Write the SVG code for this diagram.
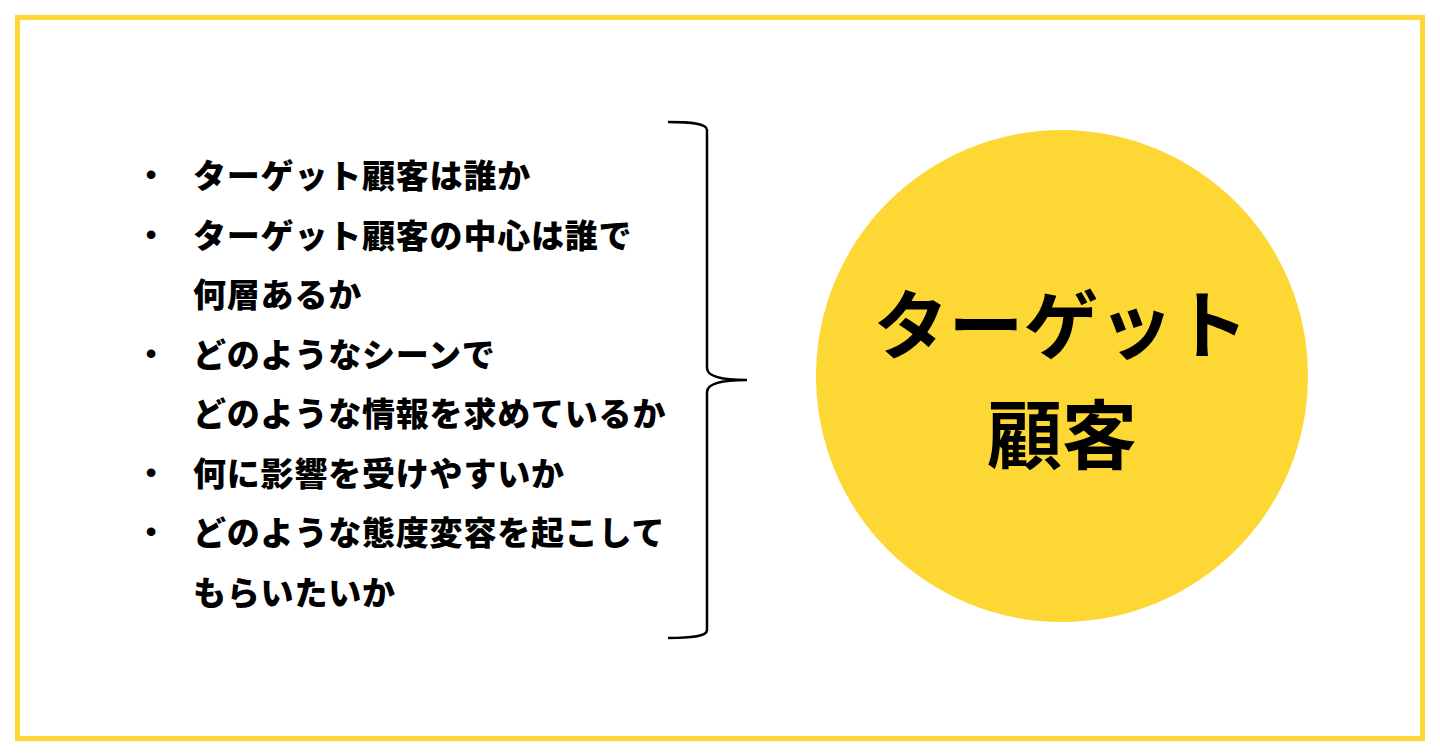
<svg xmlns="http://www.w3.org/2000/svg" width="1440" height="754" viewBox="0 0 1440 754">
  <style>
    .item { font-family: "Noto Sans CJK JP", "Noto Sans CJK SC", sans-serif; font-size: 33px; font-weight: 900; letter-spacing: 0.8px; fill: #000; dominant-baseline: central; }
    .bullet { font-family: "Liberation Sans", sans-serif; font-size: 32px; fill: #000; text-anchor: middle; }
    .big { font-family: "Noto Sans CJK JP", "Noto Sans CJK SC", sans-serif; font-size: 75px; font-weight: bold; fill: #000; text-anchor: middle; dominant-baseline: central; }
  </style>
  <rect x="0" y="0" width="1440" height="754" fill="#ffffff"/>
  <rect id="frame" x="17.5" y="17.5" width="1405" height="721" fill="none" stroke="#FDD835" stroke-width="5"/>
  <g id="list">
    <text class="bullet" x="151" y="185">•</text>
    <text class="item" x="193" y="174">ターゲット顧客は誰か</text>
    <text class="bullet" x="151" y="244.5">•</text>
    <text class="item" x="193" y="233.5">ターゲット顧客の中心は誰で</text>
    <text class="item" x="193" y="293">何層あるか</text>
    <text class="bullet" x="151" y="363.5">•</text>
    <text class="item" x="193" y="352.5">どのようなシーンで</text>
    <text class="item" x="193" y="412">どのような情報を求めているか</text>
    <text class="bullet" x="151" y="482.5">•</text>
    <text class="item" x="193" y="471.5">何に影響を受けやすいか</text>
    <text class="bullet" x="151" y="542">•</text>
    <text class="item" x="193" y="531">どのような態度変容を起こして</text>
    <text class="item" x="193" y="590.5">もらいたいか</text>
  </g>
  <g id="connectors">
    <path id="brace" d="M668,122 C690,122 707,123 707,130 L707,368 C707,376 720,380 747,380 C720,380 707,384 707,392 L707,630 C707,637 690,638 668,638" fill="none" stroke="#000" stroke-width="2.5"/>
  </g>
  <g id="target">
    <circle cx="1062" cy="376" r="246" fill="#FDD835"/>
    <text class="big" x="1061" y="320">ターゲット</text>
    <text class="big" x="1062" y="430">顧客</text>
  </g>
</svg>
